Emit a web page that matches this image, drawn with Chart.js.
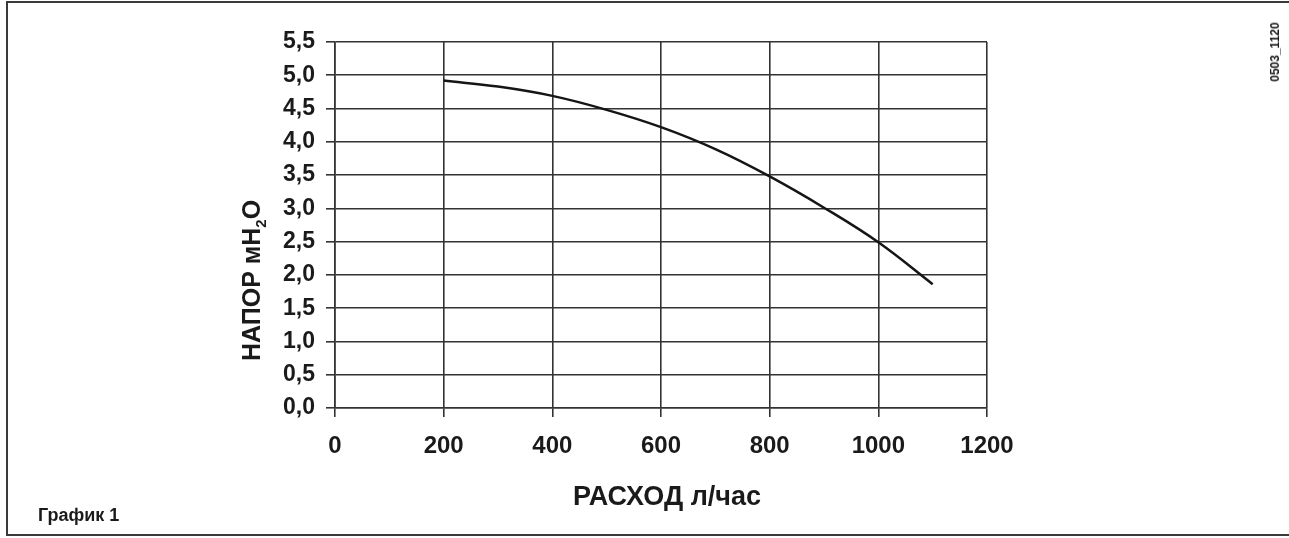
<!DOCTYPE html>
<html lang="ru">
<head>
<meta charset="utf-8">
<title>График 1</title>
<script src="https://cdn.jsdelivr.net/npm/chart.js@4.4.1/dist/chart.umd.min.js"></script>
<style>
    html, body {
        margin: 0;
        padding: 0;
        background: #fff;
        overflow: hidden;
    }
    #page {
        position: relative;
        width: 1289px;
        height: 538px;
        font-family: "Liberation Sans", Arial, sans-serif;
        font-weight: bold;
        color: #1a1a1a;
    }
    #frame {
        position: absolute;
        left: 6px;
        top: 1px;
        width: 1283px;
        height: 535px;
        border: 2px solid #3a3a3a;
        border-right: none;
        box-sizing: border-box;
    }
    #theChart {
        position: absolute;
        left: 0;
        top: 0;
    }
    #caption {
        position: absolute;
        left: 38px;
        top: 505px;
        font-size: 18px;
    }
    #code {
        position: absolute;
        left: 1275px;
        top: 52px;
        font-size: 12px;
        transform: translate(-50%, -50%) rotate(-90deg);
        white-space: nowrap;
    }
</style>
</head>
<body>
<div id="page">
    <div id="frame"></div>
    <canvas id="theChart" width="1289" height="538"></canvas>
    <div id="caption">График 1</div>
    <div id="code">0503_1120</div>
</div>
<script>
// pump curve: flow (l/h) vs head (m H2O)
const flowRates = [200, 300, 400, 500, 600, 700, 800, 900, 1000, 1100];
const heads = [4.92, 4.83, 4.69, 4.48, 4.22, 3.89, 3.48, 3.01, 2.49, 1.86];

const xMin = 0, xMax = 1200, xStep = 200;
const yMin = 0, yMax = 5.5, yStep = 0.5;

const xTitle = "РАСХОД л/час";
const yTitleParts = ["НАПОР мН", "2", "О"]; // middle part is the subscript

const gridColor = "#333333";
const fontFamily = '"Liberation Sans", Arial, sans-serif';

// Draws both axis titles (the y one needs a real subscript)
const axisTitles = {
    id: "axisTitles",
    afterDraw(chart) {
        const { ctx, chartArea: a } = chart;
        ctx.save();
        ctx.fillStyle = "#1a1a1a";
        ctx.textBaseline = "alphabetic";

        ctx.font = "bold 27px " + fontFamily;
        ctx.textAlign = "center";
        ctx.fillText(xTitle, (a.left + a.right) / 2 + 6, a.bottom + 97);

        ctx.translate(a.left - 75, a.bottom - 47);
        ctx.rotate(-Math.PI / 2);
        ctx.textAlign = "left";
        let pos = 0;
        ctx.font = "bold 25px " + fontFamily;
        ctx.fillText(yTitleParts[0], pos, 0);
        pos += ctx.measureText(yTitleParts[0]).width;
        ctx.font = "bold 15px " + fontFamily;
        ctx.fillText(yTitleParts[1], pos, 6);
        pos += ctx.measureText(yTitleParts[1]).width;
        ctx.font = "bold 25px " + fontFamily;
        ctx.fillText(yTitleParts[2], pos, 0);
        ctx.restore();
    },
};

const ctx = document.getElementById("theChart");
const theChart = new Chart(ctx, {
    type: "line",
    data: {
        datasets: [{
            data: flowRates.map((f, i) => ({ x: f, y: heads[i] })),
            borderColor: "#151515",
            borderWidth: 2.5,
            pointRadius: 0,
            tension: 0.4,
            fill: false,
        }],
    },
    options: {
        responsive: false,
        animation: false,
        devicePixelRatio: 1,
        layout: {
            padding: { left: 0, top: 42, right: 302, bottom: 0 },
        },
        plugins: {
            legend: { display: false },
            tooltip: { enabled: false },
        },
        scales: {
            x: {
                type: "linear",
                min: xMin,
                max: xMax,
                afterFit: (scale) => { scale.height = 130; },
                ticks: {
                    stepSize: xStep,
                    padding: 15,
                    color: "#1a1a1a",
                    font: { family: fontFamily, size: 24, weight: "bold" },
                    maxRotation: 0,
                    callback: (v) => String(v),
                },
                grid: { color: gridColor, lineWidth: 1.6, tickLength: 9 },
                border: { color: gridColor, width: 1.6 },
            },
            y: {
                min: yMin,
                max: yMax,
                afterFit: (scale) => { scale.width = 335; },
                ticks: {
                    stepSize: yStep,
                    padding: 11,
                    color: "#1a1a1a",
                    font: { family: fontFamily, size: 23, weight: "bold" },
                    callback: (v) => v.toFixed(1).replace(".", ","),
                },
                grid: { color: gridColor, lineWidth: 1.6, tickLength: 9 },
                border: { color: gridColor, width: 1.6 },
            },
        },
    },
    plugins: [axisTitles],
});
</script>
</body>
</html>
